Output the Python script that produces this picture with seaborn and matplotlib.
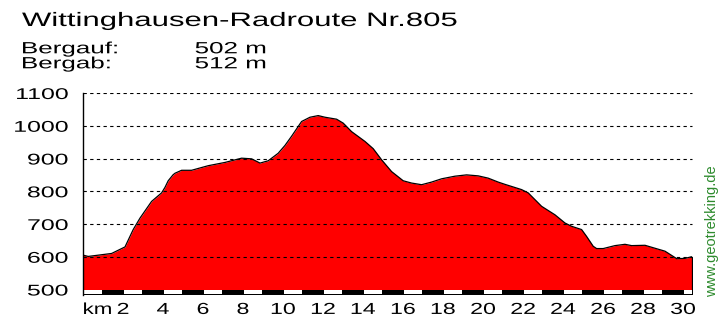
import numpy as np
import matplotlib
matplotlib.use("Agg")
import matplotlib.pyplot as plt
import seaborn as sns
from matplotlib.patheffects import AbstractPathEffect
from matplotlib.transforms import Affine2D

# ---- data ----
title = "Wittinghausen-Radroute Nr.805"
stat_labels = ["Bergauf:", "Bergab:"]
stat_values = ["502 m", "512 m"]
watermark = "www.geotrekking.de"

km = [0.0, 0.26, 1.43, 2.1, 2.51, 2.85, 3.43, 3.93, 4.1, 4.26, 4.5, 4.6,
      4.93, 5.43, 6.26, 7.1, 7.93, 8.43, 8.85, 9.26, 9.76, 10.1, 10.43,
      10.93, 11.35, 11.76, 12.1, 12.68, 13.01, 13.43, 14.1, 14.51, 14.93,
      15.43, 16.01, 16.43, 16.93, 17.43, 17.93, 18.6, 19.18, 19.76, 20.26,
      20.76, 21.1, 21.93, 22.26, 22.93, 23.6, 24.1, 24.43, 24.93, 25.18,
      25.51, 25.68, 26.01, 26.6, 27.1, 27.43, 28.1, 28.43, 29.1, 29.69,
      30.1, 30.43]
elev = [605, 601, 610, 630, 683, 718, 769, 795, 812, 832, 850, 855,
        864, 864, 878, 888, 901, 899, 886, 893, 916, 940, 968,
        1013, 1026, 1031, 1026, 1020, 1008, 982, 952, 930, 896,
        860, 832, 825, 820, 828, 838, 846, 850, 847, 840,
        828, 821, 805, 795, 754, 728, 703, 693, 683, 662,
        632, 625, 625, 634, 638, 634, 635, 629, 617, 594,
        595, 600]
y_ticks = [500, 600, 700, 800, 900, 1000, 1100]
x_ticks = [2, 4, 6, 8, 10, 12, 14, 16, 18, 20, 22, 24, 26, 28, 30]
x_unit = "km"
x_max = 30.5
y_base = 500


class HStretch(AbstractPathEffect):
    """Draw text horizontally stretched (the reference has wide lettering)."""
    def __init__(self, sx=1.6, anchor="left"):
        super().__init__()
        self.sx = sx
        self.anchor = anchor

    def draw_path(self, renderer, gc, tpath, affine, rgbFace=None):
        ext = tpath.get_extents()
        if self.anchor == "left":
            a0 = ext.x0
        elif self.anchor == "right":
            a0 = ext.x1
        else:
            a0 = 0.5 * (ext.x0 + ext.x1)
        t = Affine2D().translate(-a0, 0).scale(self.sx, 1).translate(a0, 0) + affine
        renderer.draw_path(gc, tpath, t, rgbFace)


sns.set_theme(style="white")
plt.rcParams["font.family"] = ["Liberation Sans", "DejaVu Sans"]

W, H = 726, 320
fig = plt.figure(figsize=(W / 100, H / 100), dpi=100)
ax_left, ax_right, ax_top, ax_bot = 83, 693, 92.5, 295
ax = fig.add_axes([ax_left / W, 1 - ax_bot / H, (ax_right - ax_left) / W,
                   (ax_bot - ax_top) / H])

px_per_m = (289.5 - 93) / 600.0
y_low = y_base - (ax_bot - 289.5) / px_per_m
y_high = 1100 + (93 - ax_top) / px_per_m

# profile
ax.fill_between(km, elev, y_base, color="#ff0000", lw=0, zorder=1)
sns.lineplot(x=km, y=elev, ax=ax, color="black", lw=0.9, sort=False,
             estimator=None, zorder=3)
ax.plot([km[-1], km[-1]], [y_base, elev[-1]], color="black", lw=0.9, zorder=3)

# km bar
ax.fill_between([0, x_max], y_low, y_base, color="black", lw=0, zorder=4)
wb_lo = y_base - (293.5 - 289.5) / px_per_m
wb_hi = y_base - (290.4 - 289.5) / px_per_m
for k in range(0, int(np.ceil(x_max)), 2):
    ax.fill_between([k + 0.07, min(k + 0.93, x_max - 0.07)], wb_lo, wb_hi,
                    color="white", lw=0, zorder=5)

# grid
for yv in y_ticks[1:]:
    ax.axhline(yv, xmin=0, xmax=(km[-1]) / x_max, color="black", lw=0.8,
               ls=(0, (3.0, 3.0)), zorder=2.5)

ax.set_xlim(0, x_max)
ax.set_ylim(y_low, y_high)
ax.set_xlabel("")
ax.set_ylabel("")
for s in ["top", "right", "bottom"]:
    ax.spines[s].set_visible(False)
ax.spines["left"].set_color("black")
ax.spines["left"].set_linewidth(1.0)
ax.spines["left"].set_zorder(6)

ax.set_yticks(y_ticks)
ax.set_yticklabels([str(v) for v in y_ticks])
ax.set_xticks(x_ticks)
ax.set_xticklabels([str(v) for v in x_ticks])
ax.tick_params(axis="y", length=0, pad=10.8, labelsize=11.2, labelcolor="black")
ax.tick_params(axis="x", length=0, pad=5.0, labelsize=11.5, labelcolor="black")
for lab in ax.get_yticklabels():
    lab.set_path_effects([HStretch(1.6, "right")])
for lab in ax.get_xticklabels():
    lab.set_path_effects([HStretch(1.45, "center")])

# unit label at the start of the x axis
ax.text(0, -7.0 / (ax_bot - ax_top), x_unit, transform=ax.get_xaxis_transform(),
        ha="left", va="top", fontsize=11.5, color="black",
        path_effects=[HStretch(1.4, "left")])

# title and stats
fig.text(22 / W, 1 - 26 / H, title, ha="left", va="baseline", fontsize=14,
         color="black", path_effects=[HStretch(1.6, "left")])
for i, (lab, val) in enumerate(zip(stat_labels, stat_values)):
    yb = 1 - (53.3 + 15 * i) / H
    fig.text(21.7 / W, yb, lab, ha="left", va="baseline", fontsize=11.7,
             color="black", path_effects=[HStretch(1.6, "left")])
    fig.text(195 / W, yb, val, ha="left", va="baseline", fontsize=11.7,
             color="black", path_effects=[HStretch(1.6, "left")])

# watermark
fig.text(712 / W, 1 - 231.5 / H, watermark, rotation=90, ha="center",
         va="center", fontsize=10.5, color="#2e8b2e")

fig.savefig("out.png", dpi=100)
